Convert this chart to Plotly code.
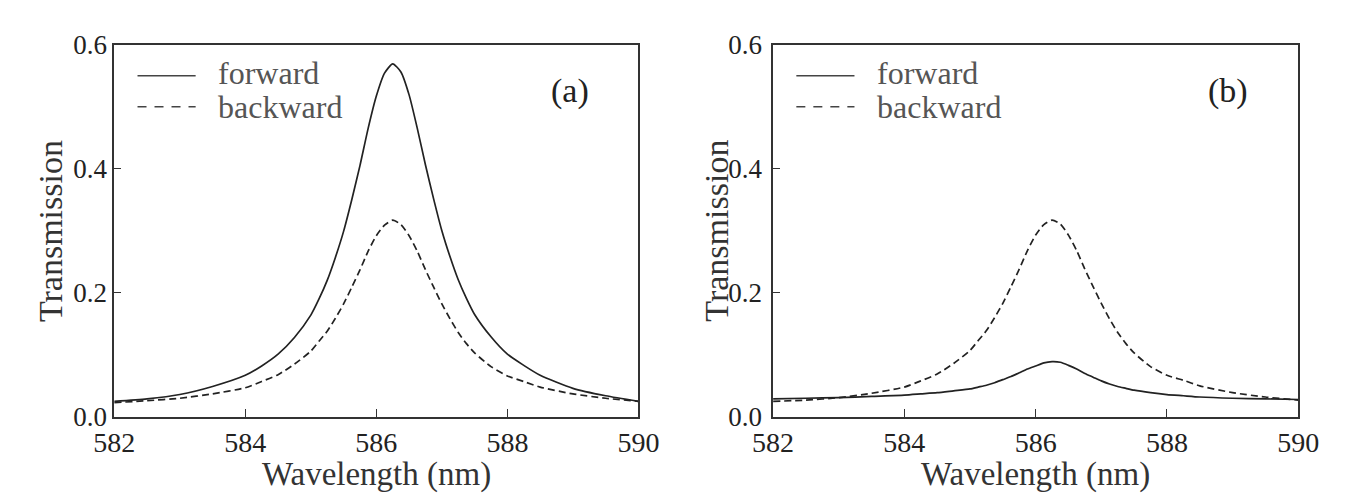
import plotly.graph_objects as go

# ---------------- data ----------------
wavelength = [582, 582.5, 583, 583.5, 584, 584.25, 584.5, 584.75, 585, 585.125, 585.25,
              585.375, 585.5, 585.625, 585.75, 585.875, 586, 586.125, 586.25,
              586.375, 586.5, 586.625, 586.75, 586.875, 587, 587.125, 587.25, 587.375,
              587.5, 587.75, 588, 588.25, 588.5, 589, 589.5, 590]

forward_a = [0.025, 0.029, 0.036, 0.049, 0.067, 0.082, 0.101, 0.128, 0.164, 0.190, 0.220,
             0.257, 0.299, 0.350, 0.405, 0.465, 0.517, 0.554, 0.569,
             0.556, 0.519, 0.465, 0.406, 0.351, 0.300, 0.258, 0.221, 0.191,
             0.165, 0.129, 0.101, 0.083, 0.067, 0.046, 0.034, 0.025]
backward_a = [0.023, 0.026, 0.030, 0.037, 0.047, 0.057, 0.068, 0.085, 0.106, 0.122, 0.138,
              0.159, 0.182, 0.209, 0.237, 0.267, 0.292, 0.309, 0.317,
              0.310, 0.292, 0.267, 0.237, 0.209, 0.182, 0.158, 0.136, 0.118,
              0.103, 0.081, 0.066, 0.057, 0.048, 0.037, 0.030, 0.025]

forward_b = [0.029, 0.030, 0.031, 0.033, 0.035, 0.037, 0.039, 0.042, 0.045, 0.048, 0.051,
             0.055, 0.060, 0.065, 0.071, 0.077, 0.082, 0.087, 0.089,
             0.088, 0.083, 0.077, 0.070, 0.064, 0.058, 0.053, 0.049, 0.046,
             0.043, 0.039, 0.036, 0.034, 0.032, 0.030, 0.029, 0.028]
backward_b = [0.025, 0.027, 0.031, 0.038, 0.048, 0.058, 0.069, 0.086, 0.107, 0.123, 0.139,
              0.160, 0.183, 0.210, 0.238, 0.268, 0.293, 0.310, 0.317,
              0.311, 0.293, 0.268, 0.238, 0.210, 0.183, 0.158, 0.136, 0.118,
              0.103, 0.081, 0.067, 0.059, 0.050, 0.039, 0.032, 0.027]

x_ticks = [582, 584, 586, 588, 590]
y_ticks = [0.0, 0.2, 0.4, 0.6]
y_tick_text = ["0.0", "0.2", "0.4", "0.6"]
series_names = ["forward", "backward"]
panel_labels = ["(a)", "(b)"]
x_title = "Wavelength (nm)"
y_title = "Transmission"

# ---------------- figure ----------------
W, H = 1349, 500
FONT = "Liberation Serif, Times New Roman, serif"
INK = "#222222"
LINE_W = 1.7
DASH = "7px,4px"

fig = go.Figure()

panels = [("x", "y", forward_a, backward_a), ("x2", "y2", forward_b, backward_b)]
for xa, ya, fwd, bwd in panels:
    fig.add_trace(go.Scatter(x=wavelength, y=fwd, mode="lines", xaxis=xa, yaxis=ya,
                             name=series_names[0], showlegend=False,
                             line=dict(color=INK, width=LINE_W, shape="spline", smoothing=0.6)))
    fig.add_trace(go.Scatter(x=wavelength, y=bwd, mode="lines", xaxis=xa, yaxis=ya,
                             name=series_names[1], showlegend=False,
                             line=dict(color=INK, width=LINE_W, dash=DASH, shape="spline", smoothing=0.6)))

# pixel geometry of the two plot areas
left_px = [88, 768]
right_px = [629, 1310]
top_px, bottom_px = 23, 419
ytitle_px = [22, 710]
ylabel_standoff = [0, 4]


def px_x(p):
    return p / W


def px_y(p):
    return 1 - p / H


axis_common = dict(showline=True, linecolor="#333333", linewidth=1.6, mirror=True,
                   ticks="inside", tickcolor="#333333", tickwidth=1.4,
                   showgrid=False, zeroline=False)

for i in range(2):
    sfx = "" if i == 0 else str(i + 1)
    fig.update_layout(**{
        "xaxis" + sfx: dict(
            domain=[px_x(left_px[i]), px_x(right_px[i])],
            range=[582, 590], tickvals=x_ticks, ticklen=8,
            tickfont=dict(family=FONT, size=28, color=INK),
            ticklabelstandoff=0,
            anchor="y" + sfx, **axis_common),
        "yaxis" + sfx: dict(
            domain=[px_y(bottom_px), px_y(top_px)],
            range=[0, 0.6], tickvals=y_ticks, ticktext=y_tick_text, ticklen=7,
            tickfont=dict(family=FONT, size=27, color=INK),
            ticklabelstandoff=ylabel_standoff[i],
            anchor="x" + sfx, **axis_common),
    })

    # axis titles
    fig.add_annotation(text=x_title, xref="paper", yref="paper",
                       x=px_x((left_px[i] + right_px[i]) / 2), y=px_y(480),
                       xanchor="center", yanchor="middle", showarrow=False, borderpad=0,
                       font=dict(family=FONT, size=33, color="#333333"))
    fig.add_annotation(text=y_title, xref="paper", yref="paper", textangle=-90,
                       x=px_x(ytitle_px[i]), y=px_y((top_px + bottom_px) / 2),
                       xanchor="center", yanchor="middle", showarrow=False,
                       font=dict(family=FONT, size=34, color="#333333"))

# manual legends (long line keys like the reference) and panel labels
for i in range(2):
    x0 = left_px[i]
    fig.add_shape(type="line", xref="paper", yref="paper",
                  x0=px_x(x0 + 24), x1=px_x(x0 + 84), y0=px_y(56), y1=px_y(56),
                  line=dict(color="#444444", width=1.5))
    fig.add_shape(type="line", xref="paper", yref="paper",
                  x0=px_x(x0 + 24), x1=px_x(x0 + 84), y0=px_y(89), y1=px_y(89),
                  line=dict(color="#444444", width=1.5, dash="9px,8px"))
    for j, name in enumerate(series_names):
        fig.add_annotation(text=name, xref="paper", yref="paper",
                           x=px_x(x0 + 106), y=px_y(53 + 36 * j),
                           xanchor="left", yanchor="middle", showarrow=False, borderpad=0,
                           font=dict(family=FONT, size=32, color="#555555"))
    fig.add_annotation(text=panel_labels[i], xref="paper", yref="paper",
                       x=px_x(x0 + 470), y=px_y(72), xanchor="center", yanchor="middle",
                       showarrow=False, font=dict(family=FONT, size=34, color=INK))

fig.update_layout(width=W, height=H, margin=dict(l=0, r=0, t=0, b=0),
                  paper_bgcolor="white", plot_bgcolor="white",
                  font=dict(family=FONT, color=INK), showlegend=False)

fig.write_html("out.html")
